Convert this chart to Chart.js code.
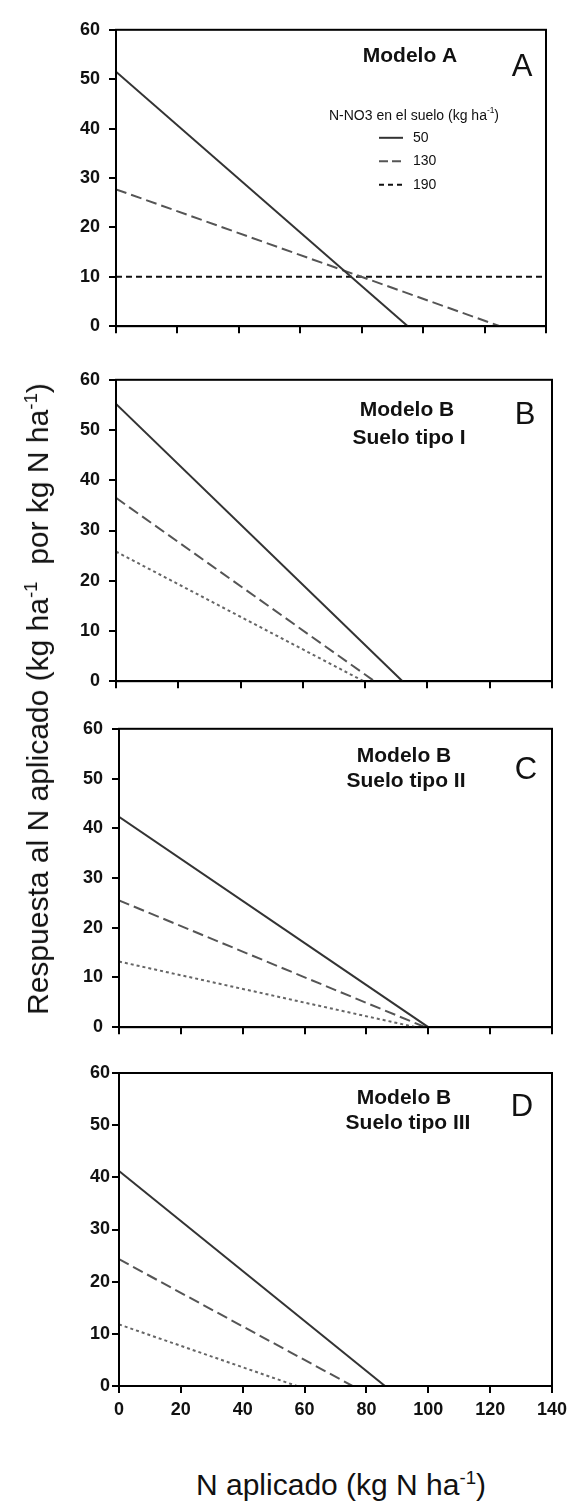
<!DOCTYPE html>
<html>
<head>
<meta charset="utf-8">
<script src="https://cdn.jsdelivr.net/npm/chart.js@4.4.1/dist/chart.umd.min.js"></script>
<style>
  html, body { margin: 0; padding: 0; background: #fff; }
  body { width: 576px; height: 1502px; position: relative; overflow: hidden;
         font-family: "Liberation Sans", Arial, sans-serif; color: #111; }
  .panel { position: absolute; left: 0; }
  .ytitle { position: absolute; left: 38px; top: 699px; white-space: nowrap; font-size: 30px;
            transform: translate(-50%, -50%) rotate(-90deg); }
  .xtitle { position: absolute; left: 341px; top: 1485px; white-space: nowrap; font-size: 30px;
            transform: translate(-50%, -50%); }
  sup { font-size: 0.62em; vertical-align: super; line-height: 0; }
</style>
</head>
<body>
<div class="panel" id="wrapA"><canvas id="chartA"></canvas></div>
<div class="panel" id="wrapB"><canvas id="chartB"></canvas></div>
<div class="panel" id="wrapC"><canvas id="chartC"></canvas></div>
<div class="panel" id="wrapD"><canvas id="chartD"></canvas></div>
<div class="ytitle">Respuesta al N aplicado (kg ha<sup>-1</sup>&nbsp; por kg N ha<sup>-1</sup>)</div>
<div class="xtitle">N aplicado (kg N ha<sup>-1</sup>)</div>

<script>
// N-NO3 en el suelo (kg ha-1), one line per level
const nLevels = ['50', '130', '190'];
const xTicks = [0, 20, 40, 60, 80, 100, 120, 140];
const yTicks = [0, 10, 20, 30, 40, 50, 60];

// Modelo A
const aX = [[0, 95], [0, 125], [0, 140]];
const aY = [[51.5, 0], [27.7, 0], [10, 10]];
// Modelo B, suelo tipo I
const bX = [[0, 92], [0, 83], [0, 79.5]];
const bY = [[55.2, 0], [36.5, 0], [25.8, 0]];
// Modelo B, suelo tipo II
const cX = [[0, 100], [0, 99], [0, 96]];
const cY = [[42.3, 0], [25.5, 0], [13.2, 0]];
// Modelo B, suelo tipo III
const dX = [[0, 86], [0, 75.5], [0, 57.5]];
const dY = [[41.2, 0], [24.3, 0], [11.8, 0]];

const FONT = '"Liberation Sans", Arial, sans-serif';

// Box around the plot area
const framePlugin = {
    id: 'frame',
    afterDraw(chart) {
        const { ctx, chartArea: a } = chart;
        ctx.save();
        ctx.strokeStyle = '#000';
        ctx.lineWidth = 2;
        ctx.strokeRect(a.left, a.top, a.right - a.left, a.bottom - a.top);
        ctx.restore();
    }
};

function drawParts(ctx, parts, x, y, size, weight, align) {
    let total = 0;
    parts.forEach(p => {
        ctx.font = `${weight} ${p.sup ? size * 0.6 : size}px ${FONT}`;
        p.w = ctx.measureText(p.t).width;
        total += p.w;
    });
    let cx = align === 'left' ? x : x - total / 2;
    ctx.textAlign = 'left';
    ctx.textBaseline = 'middle';
    parts.forEach(p => {
        ctx.font = `${weight} ${p.sup ? size * 0.6 : size}px ${FONT}`;
        ctx.fillText(p.t, cx, p.sup ? y - size * 0.4 : y);
        cx += p.w;
    });
}

// Panel titles, letters and (panel A) legend
const textPlugin = {
    id: 'panelText',
    afterDraw(chart, args, opts) {
        const { ctx, chartArea: a } = chart;
        ctx.save();
        ctx.fillStyle = '#111';
        (opts.items || []).forEach(it => {
            drawParts(ctx, [{ t: it.text }], a.left + it.x, a.top + it.y, it.size, it.bold ? 'bold' : 'normal', 'center');
        });
        if (opts.legend) {
            const lg = opts.legend;
            drawParts(ctx, [{ t: 'N-NO3 en el suelo (kg ha' }, { t: '-1', sup: true }, { t: ')' }],
                a.left + lg.titleX, a.top + lg.titleY, 14, 'normal', 'center');
            chart.data.datasets.forEach((ds, i) => {
                const y = a.top + lg.rowY + i * lg.rowGap;
                ctx.beginPath();
                ctx.strokeStyle = ds.legendColor;
                ctx.lineWidth = 2;
                ctx.setLineDash(ds.legendDash);
                ctx.moveTo(a.left + lg.lineX0, y);
                ctx.lineTo(a.left + lg.lineX1, y);
                ctx.stroke();
                ctx.setLineDash([]);
                drawParts(ctx, [{ t: ds.label }], a.left + lg.labelX, y, 14, 'normal', 'left');
            });
        }
        ctx.restore();
    }
};

function makeDatasets(xs, ys, dotColor, dotDash) {
    const styles = [
        { color: '#333', dash: [], legendDash: [] },
        { color: '#555', dash: [11, 5], legendDash: [9, 4] },
        { color: dotColor, dash: dotDash, legendDash: [5, 4] }
    ];
    return nLevels.map((lvl, i) => ({
        label: lvl,
        data: xs[i].map((x, j) => ({ x: x, y: ys[i][j] })),
        borderColor: styles[i].color,
        borderWidth: 2,
        borderDash: styles[i].dash,
        legendColor: i === 2 ? '#111' : styles[i].color,
        legendDash: styles[i].legendDash,
        pointRadius: 0,
        fill: false,
        tension: 0
    }));
}

// plot box in page pixels: left, right, top, bottom
function makePanel(id, xs, ys, box, cfg) {
    const padTop = 14;
    const xAxisH = cfg.showX ? 48 : 9;
    const h = (box.bottom - box.top) + padTop + xAxisH;
    const wrap = document.getElementById('wrap' + id);
    wrap.style.top = (box.top - padTop) + 'px';
    const canvas = document.getElementById('chart' + id);
    canvas.width = 576;
    canvas.height = h;

    return new Chart(canvas.getContext('2d'), {
        type: 'line',
        data: { datasets: makeDatasets(xs, ys, cfg.dotColor, cfg.dotDash) },
        options: {
            responsive: false,
            animation: false,
            devicePixelRatio: 1,
            layout: { padding: { top: padTop, right: 576 - box.right, left: 0, bottom: 0 } },
            plugins: {
                legend: { display: false },
                tooltip: { enabled: false },
                panelText: cfg.text
            },
            scales: {
                x: {
                    type: 'linear',
                    min: xTicks[0],
                    max: xTicks[xTicks.length - 1],
                    afterBuildTicks: s => { s.ticks = xTicks.map(v => ({ value: v })); },
                    afterFit: s => { s.height = xAxisH; },
                    grid: { drawOnChartArea: false, drawTicks: true, tickLength: 7, color: '#000', lineWidth: 2 },
                    border: { display: true, color: '#000', width: 2 },
                    ticks: {
                        display: cfg.showX,
                        padding: 6,
                        color: '#111',
                        font: { family: FONT, size: 18, weight: 'bold' },
                        maxRotation: 0
                    }
                },
                y: {
                    type: 'linear',
                    min: yTicks[0],
                    max: yTicks[yTicks.length - 1],
                    afterBuildTicks: s => { s.ticks = yTicks.map(v => ({ value: v })); },
                    afterFit: s => { s.width = box.left; },
                    grid: { drawOnChartArea: false, drawTicks: true, tickLength: 7, color: '#000', lineWidth: 2 },
                    border: { display: true, color: '#000', width: 2 },
                    ticks: {
                        padding: cfg.yPad,
                        color: '#111',
                        font: { family: FONT, size: 18, weight: 'bold' }
                    }
                }
            }
        },
        plugins: [framePlugin, textPlugin]
    });
}

makePanel('A', aX, aY, { left: 116, right: 546, top: 24, bottom: 337 }, {
    showX: false, yPad: 9, dotColor: '#111', dotDash: [6, 4],
    text: {
        items: [
            { text: 'Modelo A', x: 294, y: 26, size: 21, bold: true },
            { text: 'A', x: 406, y: 38, size: 31 }
        ],
        legend: { titleX: 298, titleY: 86, rowY: 108, rowGap: 23.5, lineX0: 263, lineX1: 287, labelX: 297 }
    }
});

makePanel('B', bX, bY, { left: 116, right: 552, top: 374, bottom: 692 }, {
    showX: false, yPad: 9, dotColor: '#666', dotDash: [3, 3],
    text: {
        items: [
            { text: 'Modelo B', x: 291, y: 30, size: 21, bold: true },
            { text: 'Suelo tipo I', x: 293, y: 58, size: 21, bold: true },
            { text: 'B', x: 409, y: 36, size: 31 }
        ]
    }
});

makePanel('C', cX, cY, { left: 119, right: 552, top: 723, bottom: 1038 }, {
    showX: false, yPad: 9, dotColor: '#666', dotDash: [3, 3],
    text: {
        items: [
            { text: 'Modelo B', x: 285, y: 27, size: 21, bold: true },
            { text: 'Suelo tipo II', x: 287, y: 52, size: 21, bold: true },
            { text: 'C', x: 407, y: 42, size: 31 }
        ]
    }
});

makePanel('D', dX, dY, { left: 119, right: 552, top: 1073, bottom: 1386 }, {
    showX: true, yPad: 2, dotColor: '#666', dotDash: [3, 3],
    text: {
        items: [
            { text: 'Modelo B', x: 285, y: 25, size: 21, bold: true },
            { text: 'Suelo tipo III', x: 289, y: 50, size: 21, bold: true },
            { text: 'D', x: 403, y: 34, size: 31 }
        ]
    }
});
</script>
</body>
</html>
